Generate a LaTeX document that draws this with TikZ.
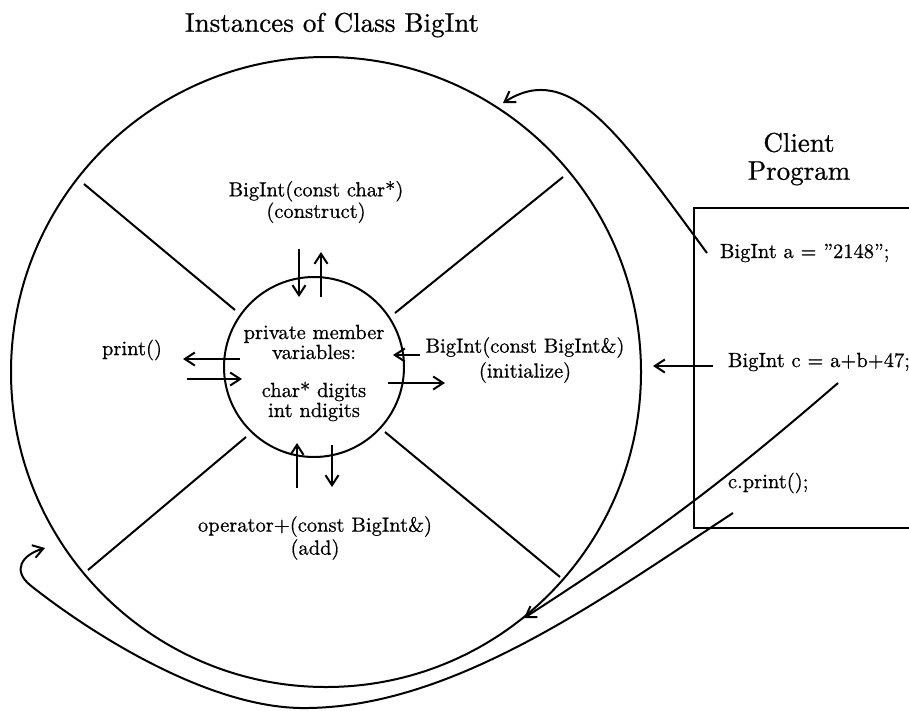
\documentclass[tikz,border=0pt]{standalone}
\usepackage{fontspec}
\setmainfont{lmroman10-regular.otf}[FakeBold=0.7]
\usetikzlibrary{arrows.meta}

\tikzset{
  ttl/.style={align=center, inner sep=0pt, font=\fontsize{27}{28}\selectfont},
  lbl/.style={align=center, inner sep=0pt, font=\fontsize{20.5}{23}\selectfont},
  msg/.style={-{Straight Barb[length=10pt,width=13pt]}},
}

\begin{document}
\begin{tikzpicture}[x=1pt, y=-1pt, line width=2pt]
  \useasboundingbox (0,0) rectangle (909,710);

  % the class and its data
  \node (outer) [circle, draw, minimum size=630pt, inner sep=0pt] at (326,372) {};
  \node (inner) [circle, draw, minimum size=180pt, inner sep=0pt] at (314,367) {};
  \node (members) [lbl, font=\fontsize{20.5}{20}\selectfont] at (314,373)
    {private member\\variables:\\[18pt]char* digits\\int ndigits};

  % spokes between the methods
  \coordinate (ul1) at (235,310); \coordinate (ul2) at (84,184);
  \coordinate (ur1) at (395,313); \coordinate (ur2) at (563,177);
  \coordinate (lr1) at (385,432); \coordinate (lr2) at (560,577);
  \coordinate (ll1) at (246,437); \coordinate (ll2) at (88,570);
  \draw (ul1) -- (ul2);
  \draw (ur1) -- (ur2);
  \draw (lr1) -- (lr2);
  \draw (ll1) -- (ll2);

  \node (title) [ttl] at (332,25) {Instances of Class BigInt};
  \node (construct) [lbl, font=\fontsize{20.5}{21.5}\selectfont] at (316,202) {BigInt(const char*)\\(construct)};
  \node (print) [lbl] at (132,350) {print()};
  \node (init) [lbl, font=\fontsize{20.5}{25}\selectfont] at (525,360) {BigInt(const BigInt\&)\\(initialize)};
  \node (add) [lbl] at (315,538) {operator+(const BigInt\&)\\(add)};

  % calls into the data
  \coordinate (cn1) at (299,249); \coordinate (cn2) at (299,297);
  \coordinate (cn3) at (321,297); \coordinate (cn4) at (321,252);
  \coordinate (pr1) at (240,359); \coordinate (pr2) at (183,359);
  \coordinate (pr3) at (187,379); \coordinate (pr4) at (242,379);
  \coordinate (in1) at (420,355); \coordinate (in2) at (393,355);
  \coordinate (in3) at (388,383); \coordinate (in4) at (445,383);
  \coordinate (ad1) at (297,488); \coordinate (ad2) at (297,443);
  \coordinate (ad3) at (332,445); \coordinate (ad4) at (332,487);
  \draw[msg] (cn1) -- (cn2);
  \draw[msg] (cn3) -- (cn4);
  \draw[msg] (pr1) -- (pr2);
  \draw[msg] (pr3) -- (pr4);
  \draw[msg] (in1) -- (in2);
  \draw[msg] (in3) -- (in4);
  \draw[msg] (ad1) -- (ad2);
  \draw[msg] (ad3) -- (ad4);

  % client program
  \node (client) [ttl] at (799,159) {Client\\Program};
  \coordinate (boxtr) at (909,208); \coordinate (boxtl) at (694,208);
  \coordinate (boxbl) at (694,528); \coordinate (boxbr) at (909,528);
  \draw (boxtr) -- (boxtl) -- (boxbl) -- (boxbr);
  \node (sa) [lbl, anchor=west] at (719,253) {BigInt a = ''2148'';};
  \node (sc) [lbl, anchor=west] at (727,362) {BigInt c = a+b+47;};
  \node (sp) [lbl, anchor=west] at (727,483) {c.print();};

  \coordinate (a0) at (707,253); \coordinate (a1) at (503,103);
  \coordinate (c0) at (713,366); \coordinate (c1) at (653,366);
  \coordinate (c2) at (838,383); \coordinate (c3) at (524,618);
  \coordinate (p0) at (733,513); \coordinate (p1) at (300,708);
  \coordinate (p2) at (30,585);  \coordinate (p3) at (45,548);
  \draw[msg] (a0) .. controls (620,135) and (570,60) .. (a1);
  \draw[msg] (c0) -- (c1);
  \draw[msg] (c2) to[bend left=4] (c3);
  \draw[msg] (p0) .. controls (600,600) and (450,710) .. (p1)
    .. controls (200,706) and (80,625) .. (p2)
    .. controls (12,570) and (22,555) .. (p3);
\end{tikzpicture}
\end{document}
